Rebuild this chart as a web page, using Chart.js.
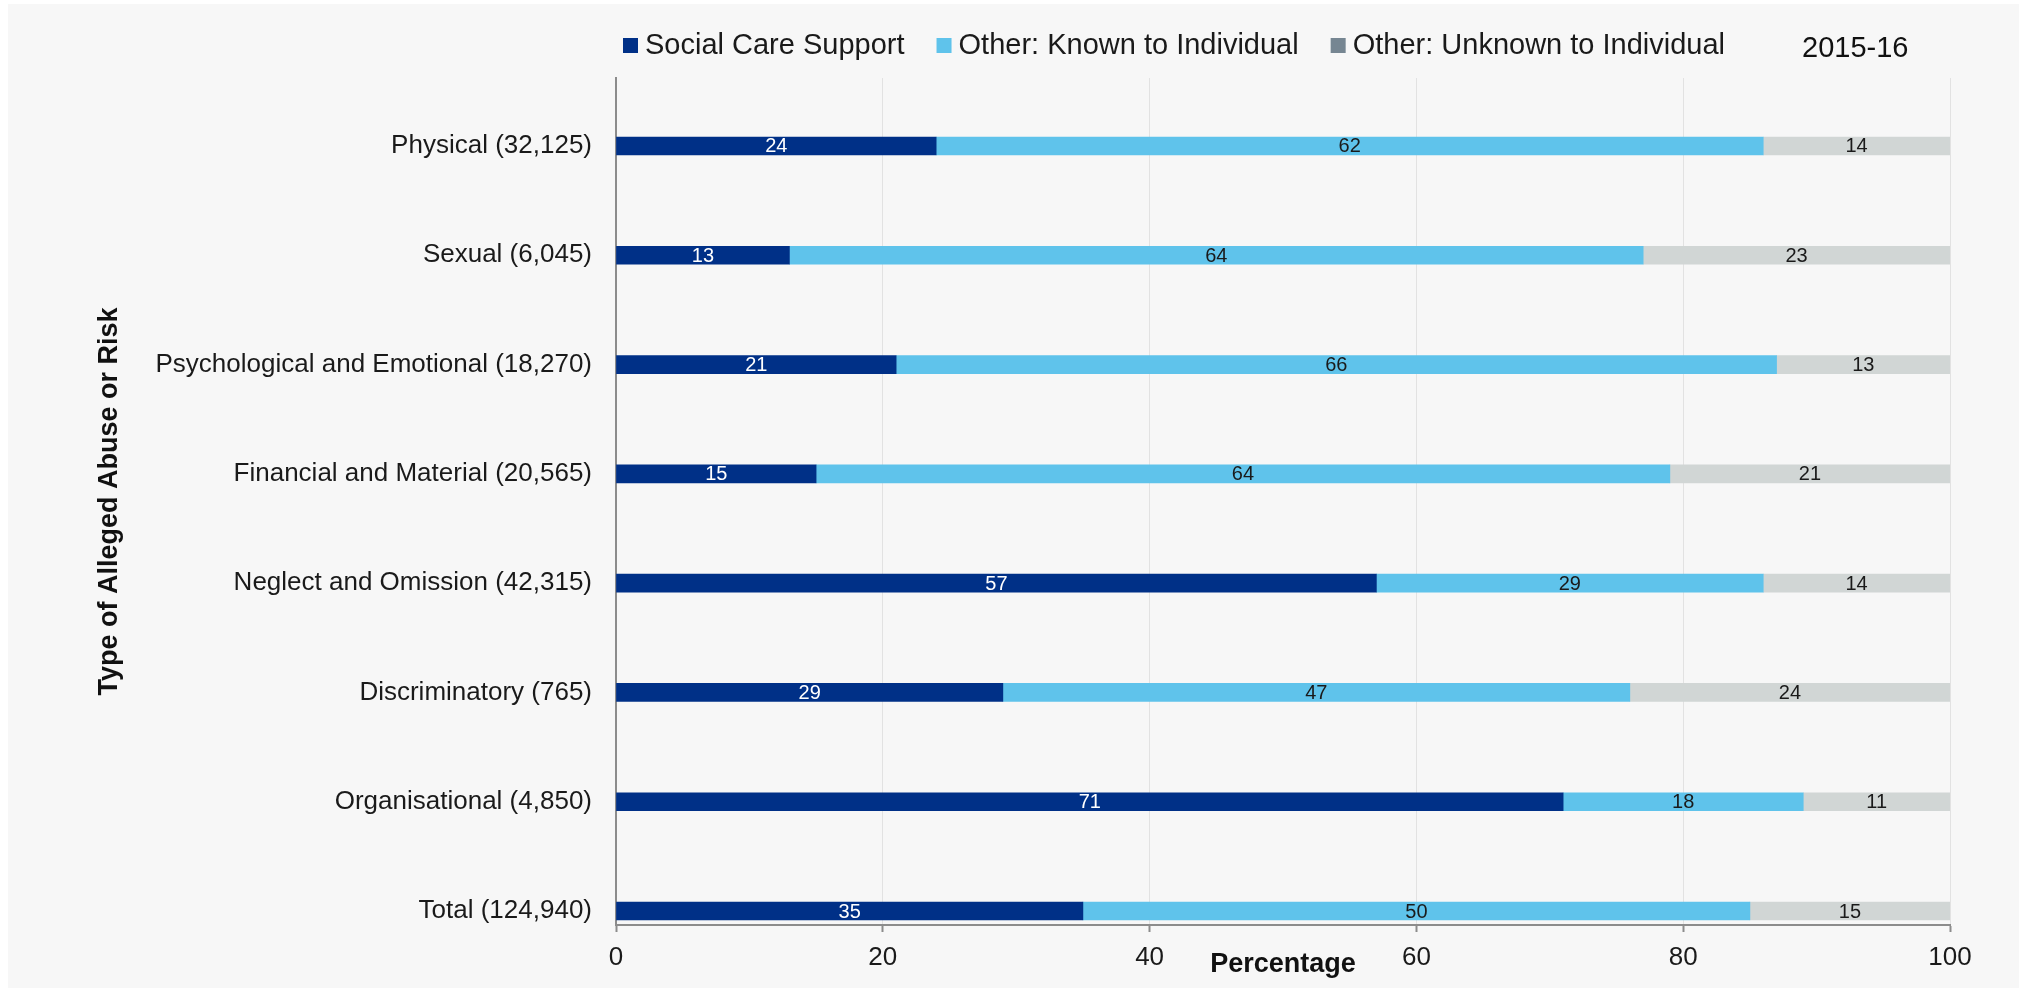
<!DOCTYPE html>
<html><head><meta charset="utf-8">
<script src="https://cdn.jsdelivr.net/npm/chart.js@4/dist/chart.umd.min.js"></script>
<style>
html,body{margin:0;padding:0;background:#ffffff;}
#wrap{position:absolute;left:8px;top:4px;width:2011px;height:984px;background:#f7f7f7;}
canvas{display:block;}
</style></head><body>
<div id="wrap"><canvas id="c" width="2011" height="984"></canvas></div>
<script>
// ---- data ----
const categories = [
  'Physical (32,125)',
  'Sexual (6,045)',
  'Psychological and Emotional (18,270)',
  'Financial and Material (20,565)',
  'Neglect and Omission (42,315)',
  'Discriminatory (765)',
  'Organisational (4,850)',
  'Total (124,940)'
];
const seriesNames = ['Social Care Support', 'Other: Known to Individual', 'Other: Unknown to Individual'];
const socialCare   = [24, 13, 21, 15, 57, 29, 71, 35];
const knownOther   = [62, 64, 66, 64, 29, 47, 18, 50];
const unknownOther = [14, 23, 13, 21, 14, 24, 11, 15];
const xTickValues  = [0, 20, 40, 60, 80, 100];
const yearLabel = '2015-16';
const xTitle = 'Percentage';
const yTitle = 'Type of Alleged Abuse or Risk';

// ---- styles ----
const FONT = '"Liberation Sans", Arial, Helvetica, sans-serif';
const barColors = ['#003087', '#5fc3eb', '#d1d6d5'];
const legendColors = ['#003087', '#5fc3eb', '#768692'];
const labelColors = ['#ffffff', '#1a1a1a', '#1a1a1a'];
const seriesValues = [socialCare, knownOther, unknownOther];

const datasets = seriesNames.map((name, s) => ({
  label: name,
  data: seriesValues[s].map((v, i) => ({ x: v, y: i })),
  backgroundColor: barColors[s],
  borderWidth: 0,
  barThickness: 18
}));

const segmentLabels = {
  id: 'segmentLabels',
  afterDatasetsDraw(chart) {
    const ctx = chart.ctx;
    ctx.save();
    ctx.font = '20px ' + FONT;
    ctx.textAlign = 'center';
    ctx.textBaseline = 'middle';
    chart.data.datasets.forEach((ds, s) => {
      const meta = chart.getDatasetMeta(s);
      ctx.fillStyle = labelColors[s];
      meta.data.forEach((bar, i) => {
        const p = bar.getProps(['x', 'y', 'base'], true);
        ctx.fillText(String(seriesValues[s][i]), (p.x + p.base) / 2, p.y + 1);
      });
    });
    ctx.restore();
  }
};

const customLegend = {
  id: 'customLegend',
  afterDraw(chart) {
    const ctx = chart.ctx;
    ctx.save();
    ctx.font = '29px ' + FONT;
    ctx.textBaseline = 'alphabetic';
    ctx.textAlign = 'left';
    let x = 615;
    seriesNames.forEach((name, s) => {
      ctx.fillStyle = legendColors[s];
      ctx.fillRect(x, 34, 15, 15);
      ctx.fillStyle = '#1a1a1a';
      const tx = x + 22;
      ctx.fillText(name, tx, 50);
      x = tx + ctx.measureText(name).width + 32;
    });
    ctx.fillStyle = '#111111';
    ctx.fillText(yearLabel, 1794, 53);
    ctx.restore();
  }
};

new Chart(document.getElementById('c'), {
  type: 'bar',
  data: { datasets },
  plugins: [segmentLabels, customLegend],
  options: {
    responsive: false,
    animation: false,
    indexAxis: 'y',
    devicePixelRatio: 1,
    layout: { padding: { left: 0, right: 69, top: 74, bottom: 0 } },
    plugins: {
      legend: { display: false },
      tooltip: { enabled: false },
      title: { display: false }
    },
    scales: {
      x: {
        type: 'linear',
        position: 'bottom',
        min: 0, max: 100,
        stacked: true,
        offset: false,
        afterBuildTicks: (s) => { s.ticks = xTickValues.map(v => ({ value: v })); },
        ticks: { color: '#1a1a1a', font: { family: FONT, size: 26 }, padding: 10 },
        grid: {
          color: (c) => (c.tick && c.tick.value === 0) ? 'rgba(0,0,0,0)' : '#e2e2e2',
          lineWidth: 1,
          tickLength: 7,
          tickColor: '#8c8c8c',
          tickWidth: 2
        },
        border: { display: true, color: '#8c8c8c', width: 2 },
        title: {
          display: true, text: xTitle, color: '#111111',
          font: { family: FONT, size: 27, weight: 'bold' },
          padding: { top: 0, bottom: 7 }
        },
        afterFit: (s) => { s.height = 63; }
      },
      y: {
        type: 'linear',
        reverse: true,
        offset: false,
        min: -0.622, max: 7.128,
        stacked: true,
        afterBuildTicks: (s) => { s.ticks = categories.map((c, i) => ({ value: i })); },
        ticks: {
          autoSkip: false, padding: 24, color: '#1a1a1a',
          font: { family: FONT, size: 26 },
          callback: (v) => categories[v]
        },
        grid: { display: false, drawTicks: false, offset: false },
        border: { display: true, color: '#8c8c8c', width: 2 },
        title: {
          display: true, text: yTitle, color: '#111111',
          font: { family: FONT, size: 27, weight: 'bold' },
          padding: { top: 85, bottom: 0 }
        },
        afterFit: (s) => { s.width = 608; }
      }
    }
  }
});
</script>
</body></html>
